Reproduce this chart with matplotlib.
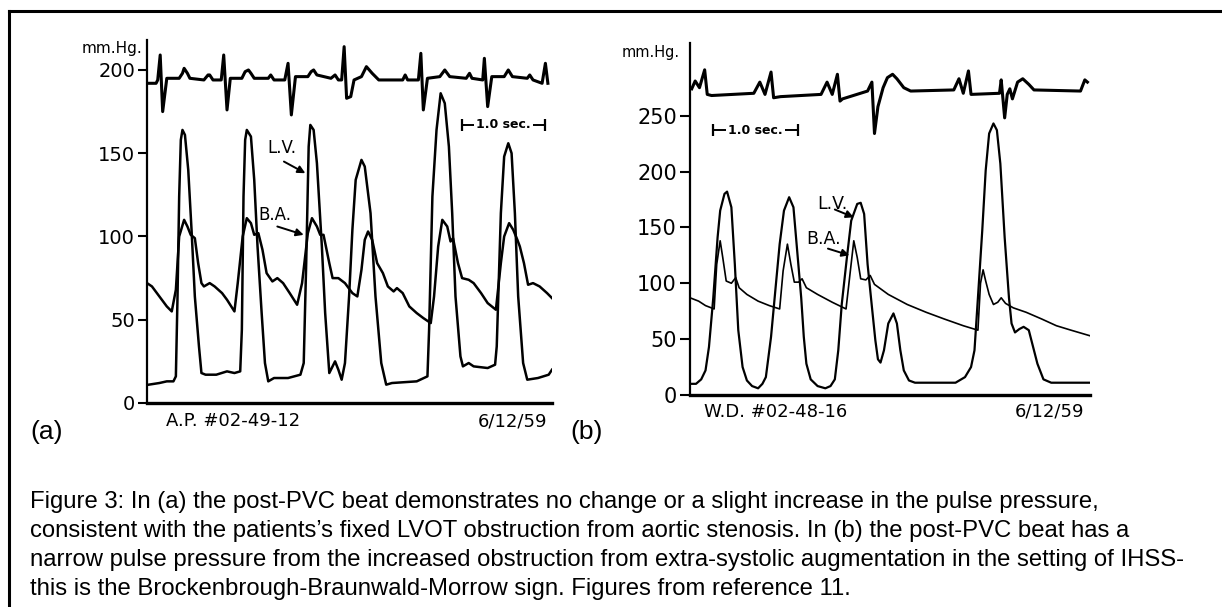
import matplotlib.pyplot as plt

plt.rcParams['font.family'] = ['DejaVu Sans']

# ---- panel (a): A.P. #02-49-12  (time in s, pressure in mm Hg) ----
a_ecg_t = [0.00, 0.11, 0.13, 0.16, 0.19, 0.24, 0.39, 0.43, 0.45, 0.49, 0.52, 0.69, 0.74, 0.76, 0.80,
           0.90, 0.93, 0.97, 1.01, 1.15, 1.19, 1.23, 1.26, 1.30, 1.47, 1.50, 1.54, 1.67, 1.71, 1.75,
           1.80, 1.95, 1.99, 2.02, 2.06, 2.23, 2.28, 2.32, 2.36, 2.39, 2.42, 2.47, 2.51, 2.60, 2.66,
           2.73, 2.81, 3.10, 3.13, 3.16, 3.29, 3.32, 3.35, 3.40, 3.55, 3.61, 3.67, 3.87, 3.91, 3.94,
           4.07, 4.09, 4.13, 4.18, 4.33, 4.38, 4.43, 4.61, 4.64, 4.68, 4.79, 4.83, 4.86]
a_ecg_p = [192, 192, 194, 209, 175, 195, 195, 198, 201, 198, 195, 194, 197, 197, 194,
           194, 209, 176, 195, 195, 199, 200, 198, 195, 195, 197, 194, 194, 204, 173,
           196, 196, 199, 200, 197, 195, 197, 194, 194, 214, 183, 184, 194, 196, 202,
           198, 194, 194, 197, 194, 194, 210, 176, 195, 196, 200, 196, 195, 198, 195,
           194, 207, 178, 196, 196, 200, 196, 195, 197, 194, 192, 204, 192]

a_lv_t = [0.02, 0.15, 0.24, 0.32, 0.35, 0.37, 0.39, 0.41, 0.43, 0.46, 0.50, 0.54, 0.58, 0.63, 0.66,
          0.71, 0.84, 0.97, 1.06, 1.13, 1.15, 1.17, 1.19, 1.21, 1.26, 1.30, 1.34, 1.39, 1.43, 1.47,
          1.54, 1.71, 1.86, 1.90, 1.93, 1.96, 1.98, 2.02, 2.06, 2.12, 2.16, 2.21, 2.25, 2.28, 2.32,
          2.36, 2.40, 2.45, 2.49, 2.53, 2.60, 2.64, 2.71, 2.77, 2.84, 2.90, 2.97, 3.27, 3.40, 3.42,
          3.46, 3.51, 3.56, 3.61, 3.66, 3.70, 3.74, 3.80, 3.83, 3.90, 3.96, 4.13, 4.22, 4.24, 4.29,
          4.33, 4.38, 4.42, 4.46, 4.50, 4.56, 4.61, 4.74, 4.87, 4.91]
a_lv_p = [11, 12, 13, 13, 16, 64, 124, 158, 164, 161, 140, 104, 64, 34, 18,
          17, 17, 19, 18, 19, 44, 124, 158, 164, 160, 134, 94, 54, 24, 13,
          15, 15, 17, 24, 84, 154, 167, 164, 144, 94, 54, 18, 22, 25, 20,
          14, 24, 64, 104, 134, 146, 142, 114, 64, 24, 11, 12, 13, 16, 44,
          124, 164, 186, 180, 154, 114, 64, 28, 22, 24, 22, 21, 23, 34, 114,
          148, 156, 150, 114, 64, 24, 14, 15, 17, 20]

a_ba_t = [0.00, 0.06, 0.15, 0.24, 0.30, 0.35, 0.39, 0.45, 0.49, 0.53, 0.58, 0.62, 0.66, 0.69, 0.76,
          0.82, 0.91, 0.97, 1.06, 1.10, 1.16, 1.21, 1.26, 1.30, 1.35, 1.40, 1.45, 1.52, 1.58, 1.65,
          1.73, 1.82, 1.88, 1.95, 2.00, 2.06, 2.10, 2.14, 2.21, 2.25, 2.32, 2.40, 2.49, 2.55, 2.60,
          2.64, 2.68, 2.73, 2.79, 2.86, 2.92, 2.99, 3.03, 3.10, 3.18, 3.27, 3.35, 3.44, 3.48, 3.53,
          3.58, 3.64, 3.68, 3.71, 3.77, 3.82, 3.90, 3.96, 4.05, 4.13, 4.23, 4.29, 4.33, 4.39, 4.44,
          4.49, 4.52, 4.57, 4.62, 4.68, 4.76, 4.85, 4.91]
a_ba_p = [72, 70, 64, 58, 55, 68, 100, 110, 106, 101, 99, 84, 72, 70, 72,
          70, 66, 62, 55, 72, 100, 111, 108, 101, 102, 92, 78, 73, 75, 72,
          66, 59, 72, 102, 111, 106, 101, 101, 84, 75, 75, 72, 66, 64, 80,
          98, 103, 98, 84, 78, 70, 67, 69, 66, 58, 54, 51, 48, 64, 94,
          110, 106, 97, 99, 84, 75, 74, 72, 66, 60, 56, 84, 100, 108, 104,
          98, 94, 84, 71, 72, 70, 66, 63]

# ---- panel (b): W.D. #02-48-16 ----
b_ecg_t = [0.02, 0.06, 0.11, 0.17, 0.20, 0.25, 0.74, 0.81, 0.87, 0.94, 0.97, 1.05, 1.52, 1.59, 1.65,
           1.71, 1.74, 1.77, 2.06, 2.11, 2.14, 2.18, 2.24, 2.29, 2.35, 2.40, 2.48, 2.56, 3.06, 3.12,
           3.17, 3.23, 3.26, 3.59, 3.61, 3.65, 3.68, 3.71, 3.74, 3.80, 3.86, 3.93, 3.99, 4.53, 4.58,
           4.61]
b_ecg_p = [274, 281, 275, 291, 269, 268, 270, 280, 269, 289, 266, 267, 269, 280, 269,
           287, 263, 265, 272, 280, 234, 258, 275, 284, 287, 283, 275, 272, 273, 283,
           270, 290, 269, 270, 282, 248, 269, 274, 265, 280, 283, 278, 273, 272, 282,
           280]

b_lv_t = [0.02, 0.07, 0.13, 0.18, 0.22, 0.27, 0.32, 0.35, 0.40, 0.43, 0.48, 0.52, 0.56, 0.61, 0.66,
          0.72, 0.79, 0.84, 0.88, 0.94, 1.00, 1.04, 1.09, 1.15, 1.20, 1.24, 1.29, 1.32, 1.35, 1.40,
          1.48, 1.57, 1.63, 1.68, 1.72, 1.76, 1.82, 1.87, 1.94, 1.98, 2.02, 2.06, 2.11, 2.15, 2.18,
          2.21, 2.25, 2.30, 2.36, 2.40, 2.44, 2.48, 2.54, 2.61, 2.74, 3.08, 3.19, 3.26, 3.30, 3.34,
          3.39, 3.43, 3.47, 3.52, 3.56, 3.60, 3.65, 3.70, 3.73, 3.77, 3.82, 3.87, 3.93, 3.97, 4.03,
          4.10, 4.19, 4.38, 4.64]
b_lv_p = [10, 10, 14, 22, 43, 87, 141, 165, 180, 182, 168, 117, 58, 25, 13,
          8, 6, 10, 16, 52, 102, 135, 165, 177, 168, 132, 87, 52, 28, 14,
          8, 6, 8, 14, 40, 81, 123, 156, 171, 172, 162, 117, 79, 49, 32,
          29, 40, 64, 73, 64, 40, 22, 13, 11, 11, 11, 16, 25, 40, 87,
          147, 201, 234, 243, 237, 207, 141, 87, 64, 56, 59, 61, 58, 46, 28,
          14, 11, 11, 11]

b_ba_t = [0.00, 0.10, 0.18, 0.28, 0.31, 0.35, 0.38, 0.42, 0.48, 0.53, 0.57, 0.66, 0.79, 0.92, 1.04,
          1.08, 1.13, 1.17, 1.21, 1.26, 1.30, 1.35, 1.48, 1.65, 1.81, 1.86, 1.90, 1.94, 1.98, 2.04,
          2.09, 2.14, 2.30, 2.52, 2.74, 2.95, 3.17, 3.34, 3.37, 3.40, 3.43, 3.47, 3.52, 3.57, 3.61,
          3.66, 3.75, 3.90, 4.08, 4.25, 4.42, 4.64]
b_ba_p = [87, 84, 80, 77, 117, 138, 123, 102, 100, 105, 96, 90, 84, 80, 77,
          111, 135, 117, 101, 101, 104, 96, 90, 83, 77, 111, 138, 123, 104, 103,
          107, 99, 90, 81, 74, 68, 62, 58, 100, 112, 102, 90, 81, 83, 87,
          82, 78, 74, 68, 62, 58, 53]

a_ticks = [0, 50, 100, 150, 200]
b_ticks = [0, 50, 100, 150, 200, 250]

caption = ["Figure 3: In (a) the post-PVC beat demonstrates no change or a slight increase in the pulse pressure,",
           "consistent with the patients\u2019s fixed LVOT obstruction from aortic stenosis. In (b) the post-PVC beat has a",
           "narrow pulse pressure from the increased obstruction from extra-systolic augmentation in the setting of IHSS-",
           "this is the Brockenbrough-Braunwald-Morrow sign. Figures from reference 11."]

W, H = 1222, 607
fig = plt.figure(figsize=(W / 100, H / 100), dpi=100)


def px_axes(left, right, top, bottom):
    return fig.add_axes([left / W, 1 - bottom / H, (right - left) / W, (bottom - top) / H])


def style(ax, ticks, size, ticklen):
    for s in ['top', 'right']:
        ax.spines[s].set_visible(False)
    ax.spines['left'].set_linewidth(1.6)
    ax.spines['bottom'].set_linewidth(2.4)
    ax.set_yticks(ticks)
    ax.set_xticks([])
    ax.tick_params(axis='y', length=ticklen, width=1.5, pad=2, labelsize=size)
    ax.set_facecolor('none')


def arrow(ax, start, tip):
    ax.annotate('', xy=tip, xytext=start,
                arrowprops=dict(arrowstyle='-|>', lw=1.4, color='k', mutation_scale=11,
                                shrinkA=0, shrinkB=0))


def sec_bar(ax, t0, t1, y):
    ax.plot([t0, t1], [y, y], color='k', lw=1.4)
    ax.plot([t0, t1], [y, y], ls='none', marker='|', ms=8, mew=1.6, color='k')
    ax.text((t0 + t1) / 2, y, '1.0 sec.', ha='center', va='center', fontsize=9, fontweight='bold',
            bbox=dict(facecolor='white', edgecolor='none', pad=1.5))


# panel (a)
ax1 = px_axes(147, 552, 40, 403)
ax1.plot(a_ecg_t, a_ecg_p, color='k', lw=2.2, solid_joinstyle='round')
ax1.plot(a_lv_t, a_lv_p, color='k', lw=1.8, solid_joinstyle='round')
ax1.plot(a_ba_t, a_ba_p, color='k', lw=1.8, solid_joinstyle='round')
ax1.set_xlim(0, 4.91)
ax1.set_ylim(0, 218)
style(ax1, a_ticks, 14, 6.5)
ax1.text(1.63, 153, 'L.V.', ha='center', va='center', fontsize=12)
arrow(ax1, (1.66, 145), (1.92, 138))
ax1.text(1.55, 113, 'B.A.', ha='center', va='center', fontsize=12)
arrow(ax1, (1.58, 106), (1.90, 101))
sec_bar(ax1, 3.82, 4.82, 167)

# panel (b)
ax2 = px_axes(690, 1090, 43, 395)
ax2.plot(b_ecg_t, b_ecg_p, color='k', lw=2.2, solid_joinstyle='round')
ax2.plot(b_lv_t, b_lv_p, color='k', lw=1.6, solid_joinstyle='round')
ax2.plot(b_ba_t, b_ba_p, color='k', lw=1.2, solid_joinstyle='round')
ax2.set_xlim(0, 4.64)
ax2.set_ylim(0, 315)
style(ax2, b_ticks, 15, 7.5)
ax2.text(1.65, 171, 'L.V.', ha='center', va='center', fontsize=12.5)
arrow(ax2, (1.68, 166), (1.90, 159))
ax2.text(1.55, 140, 'B.A.', ha='center', va='center', fontsize=12.5)
arrow(ax2, (1.60, 131), (1.85, 125))
sec_bar(ax2, 0.27, 1.25, 237)

# axis headings and plate labels
fig.text(142 / W, 1 - 49 / H, 'mm.Hg.', ha='right', va='center', fontsize=11)
fig.text(680 / W, 1 - 53 / H, 'mm.Hg.', ha='right', va='center', fontsize=10.5)
fig.text(166 / W, 1 - 421 / H, 'A.P. #02-49-12', ha='left', va='center', fontsize=13)
fig.text(547 / W, 1 - 421 / H, '6/12/59', ha='right', va='center', fontsize=13)
fig.text(704 / W, 1 - 412 / H, 'W.D. #02-48-16', ha='left', va='center', fontsize=13)
fig.text(1084 / W, 1 - 412 / H, '6/12/59', ha='right', va='center', fontsize=13)

fig.text(30 / W, 1 - 432 / H, '(a)', ha='left', va='center', fontsize=19, family='Liberation Sans')
fig.text(570 / W, 1 - 432 / H, '(b)', ha='left', va='center', fontsize=19, family='Liberation Sans')

# caption, sized so the third line spans 30..1188 px
r = fig.canvas.get_renderer()
probe = fig.text(0, 0, caption[2], fontsize=15, family='Liberation Sans')
w = probe.get_window_extent(r).width
probe.remove()
cap_size = 15 * (1188 - 30) / w
for i, line in enumerate(caption):
    fig.text(30 / W, 1 - (508 + 29 * i) / H, line, ha='left', va='baseline',
             fontsize=cap_size, family='Liberation Sans')

# frame: left and top rules only
fig.add_artist(plt.Line2D([9 / W, 9 / W], [0, 1 - 11 / H], color='k', lw=2.2))
fig.add_artist(plt.Line2D([9 / W, 1], [1 - 11 / H, 1 - 11 / H], color='k', lw=2.2))

fig.savefig('out.png', dpi=100)
